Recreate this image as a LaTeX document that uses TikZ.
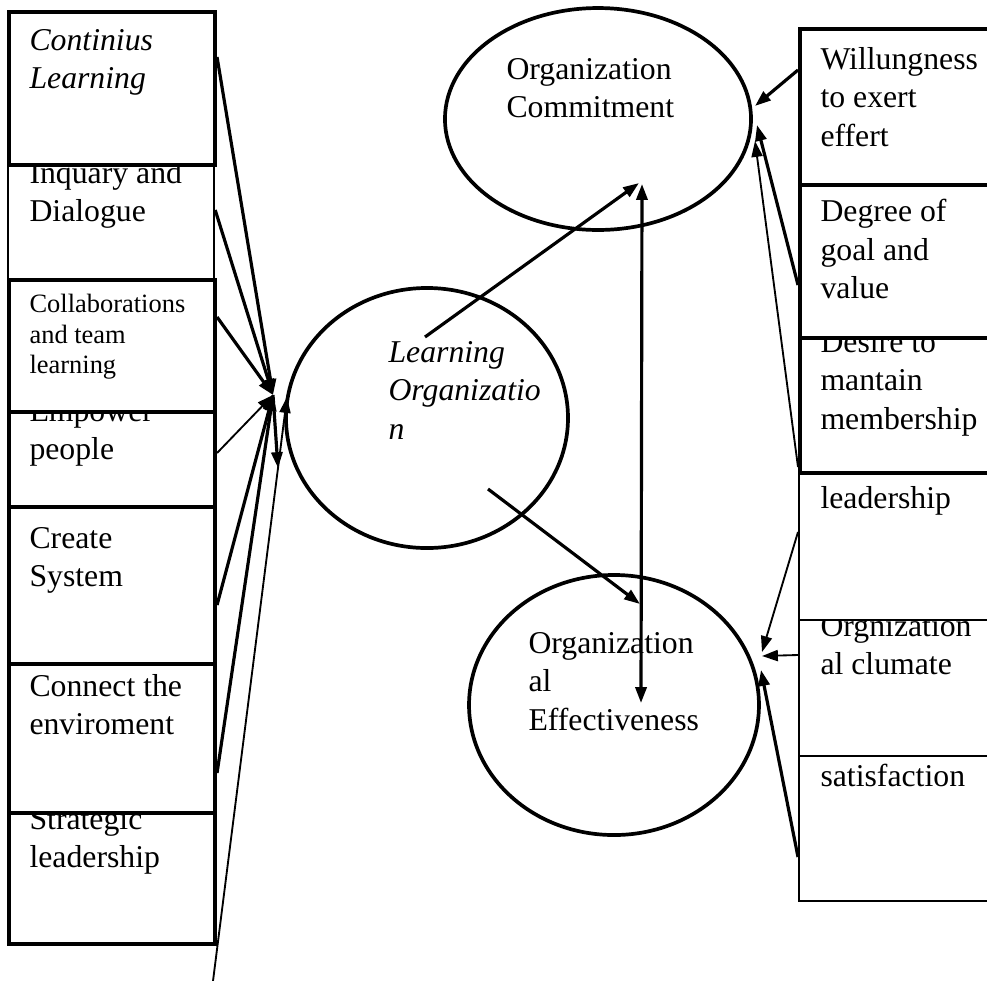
\documentclass[tikz,border=0pt]{standalone}
\usepackage{fontspec}
\setmainfont{Liberation Serif}
\usetikzlibrary{shapes.geometric, arrows.meta, calc}

\begin{document}
\begin{tikzpicture}[x=0.378pt, y=-0.378pt, >={Triangle[length=6pt,width=4.2pt]}]
        % Styles
        \tikzstyle{box} = [rectangle, draw=black, fill=white, line width=1.5pt,
        anchor=north west, inner sep=0pt, minimum width=77.9pt]
        \tikzstyle{boxthin} = [box, line width=0.8pt]
        \tikzstyle{rbox} = [box, minimum width=83.2pt]
        \tikzstyle{rboxthin} = [rbox, line width=0.9pt]
        \tikzstyle{txt} = [anchor=north west, inner sep=0pt, align=left,
        font=\fontsize{12}{14.5}\selectfont, execute at begin node=\strut]
        \tikzstyle{itxt} = [txt, font=\fontsize{12}{14.5}\selectfont\itshape]
        \tikzstyle{smalltxt} = [txt, font=\fontsize{10}{11.5}\selectfont]
        \tikzstyle{oval} = [ellipse, draw=black, line width=1.4pt, inner sep=0pt]
        \tikzstyle{link} = [->, line width=1.2pt]
        \tikzstyle{linkthin} = [->, line width=0.7pt]

        \useasboundingbox (0,0) rectangle (987,981);
        \clip (0,0) rectangle (987,981);

        % Left boxes
        \node (id) [boxthin, minimum height=51.4pt] at (7,142) {};
        \node (id-t) [txt] at (29,161) {Inquary and \\ Dialogue};
        \node (cl) [box, minimum height=57.8pt] at (7,10) {};
        \node (cl-t) [itxt] at (29,29) {Continius \\ Learning};
        \node (ep) [box, minimum height=48.4pt] at (7,377) {};
        \node (ep-t) [txt] at (29,400) {Empower \\ people};
        \node (ct) [box, minimum height=49.9pt] at (7,278) {};
        \node (ct-t) [smalltxt] at (29,294) {Collaborations \\ and team \\ learning};
        \node (cs) [box, minimum height=59.3pt] at (7,505) {};
        \node (cs-t) [txt] at (29,527) {Create \\ System};
        \node (sl) [box, minimum height=57.5pt] at (7,790) {};
        \node (sl-t) [txt] at (29,808) {Strategic \\ leadership};
        \node (ce) [box, minimum height=56.3pt] at (7,662) {};
        \node (ce-t) [txt] at (29,674) {Connect the \\ enviroment};

        % Right boxes
        \node (dm) [rbox, minimum height=59.7pt] at (798,313) {};
        \node (dm-t) [txt] at (820,331) {Desire to \\ mantain \\ membership};
        \node (dg) [rbox, minimum height=57.8pt] at (798,183) {};
        \node (dg-t) [txt] at (820,199) {Degree of \\ goal and \\ value};
        \node (we) [rbox, minimum height=59pt] at (798,27) {};
        \node (we-t) [txt] at (820,47) {Willungness \\ to exert \\ effert};
        \node (oc) [rboxthin, minimum height=60.8pt] at (798,594) {};
        \node (oc-t) [txt] at (820,615) {Orgnization \\ al clumate};
        \node (ld) [rboxthin, minimum height=55.2pt] at (798,473) {};
        \node (ld-t) [txt] at (820,481) {leadership};
        \node (sf) [rboxthin, minimum height=54.8pt] at (798,755) {};
        \node (sf-t) [txt] at (820,759) {satisfaction};

        % Ellipses
        \node (com) [oval, minimum width=115.7pt, minimum height=83.9pt] at (598,119) {};
        \node (com-t) [txt] at (506,58) {Organization \\ Commitment};
        \node (lo) [oval, minimum width=106.6pt, minimum height=98.3pt] at (427,418) {};
        \node (lo-t) [itxt] at (388,341) {Learning \\ Organizatio \\ n};
        \node (eff) [oval, minimum width=109.6pt, minimum height=98.3pt] at (614,705) {};
        \node (eff-t) [txt] at (528,632) {Organization \\ al \\ Effectiveness};

        % Ends
        \coordinate (hub) at (273,395);
        \coordinate (hubR) at (287,397);
        \coordinate (dn) at (278,468);
        \coordinate (bot) at (213,981);
        \coordinate (lo-a) at (425,337);
        \coordinate (com-a) at (639,183);
        \coordinate (lo-b) at (488,489);
        \coordinate (eff-a) at (640,604);
        \coordinate (com-v) at (642,184);
        \coordinate (eff-v) at (641,703);
        \coordinate (comR1) at (755,106);
        \coordinate (comR2) at (757,125);
        \coordinate (comR3) at (755,141);
        \coordinate (effR1) at (762,652);
        \coordinate (effR2) at (762,656);
        \coordinate (effR3) at (761,670);

        % Arrows
        \draw[link] ($(cl.north east)+(0,47)$) -- (hub);
        \draw[link] ($(id.north east)+(0,68)$) -- (hub);
        \draw[link] ($(ct.north east)+(0,39)$) -- (hub);
        \draw[linkthin] ($(ep.north east)+(0,76)$) -- (hub);
        \draw[link] ($(cs.north east)+(0,100)$) -- (hub);
        \draw[link] ($(ce.north east)+(0,111)$) -- (hub);
        \draw[linkthin] (bot) -- (hubR);
        \draw[link] (hub) -- (dn);
        \draw[link] ($(we.north west)+(0,43)$) -- (comR1);
        \draw[link] ($(dg.north west)+(0,102)$) -- (comR2);
        \draw[linkthin] ($(dm.north west)+(0,154)$) -- (comR3);
        \draw[linkthin] ($(ld.north west)+(0,59)$) -- (effR1);
        \draw[linkthin] ($(oc.north west)+(0,61)$) -- (effR2);
        \draw[link] ($(sf.north west)+(0,102)$) -- (effR3);
        \draw[link] (lo-a) -- (com-a);
        \draw[link] (lo-b) -- (eff-a);
        \draw[link, <->] (com-v) -- (eff-v);
\end{tikzpicture}
\end{document}
